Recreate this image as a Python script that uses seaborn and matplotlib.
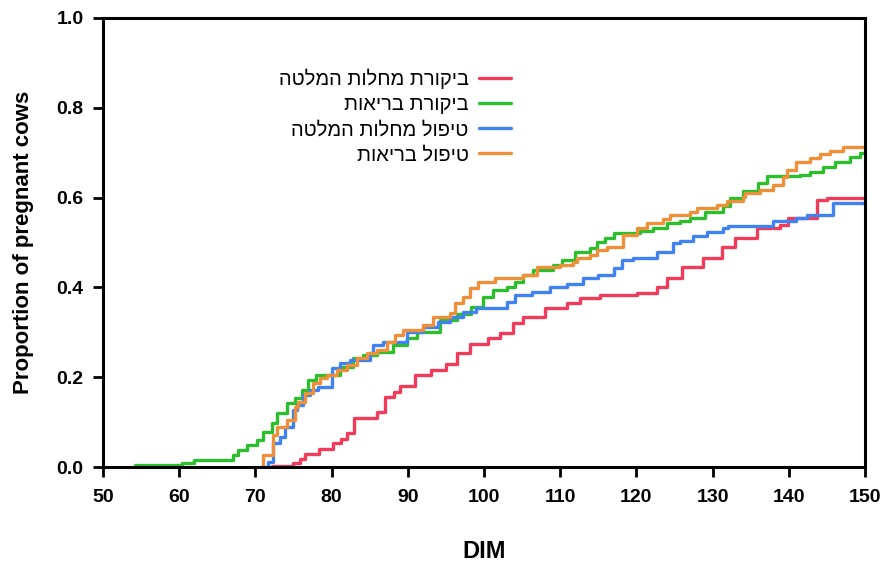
import pandas as pd
import matplotlib
matplotlib.use("Agg")
import matplotlib.pyplot as plt
import seaborn as sns

# Nomes dos grupos (texto hebraico em ordem lógica)
grupos = ['ביקורת מחלות המלטה', 'ביקורת בריאות', 'טיפול מחלות המלטה', 'טיפול בריאות']
cores = ['#F03C5A', '#2DBE2D', '#3F82F0', '#EE8F3A']

# Curvas em degrau (DIM, proporção de vacas prenhes)
red_x = [72.2, 74.9, 75.8, 76.5, 78.3, 80.2, 81.2, 82, 83, 86, 87, 88.2, 89, 91, 93, 95, 96.5, 98.2,
         100.5, 102.1, 103.8, 105.1, 108, 110.9, 112.6, 115.2, 120.1, 122.7, 124, 126, 128.7, 131.2,
         132.9, 135.8, 138.8, 139.9, 143.7, 145, 150]
red_y = [0.003, 0.008, 0.018, 0.03, 0.04, 0.053, 0.062, 0.075, 0.11, 0.123, 0.155, 0.168, 0.18, 0.205,
         0.215, 0.23, 0.255, 0.275, 0.287, 0.298, 0.32, 0.334, 0.354, 0.365, 0.376, 0.383, 0.388, 0.4,
         0.42, 0.445, 0.465, 0.49, 0.51, 0.532, 0.538, 0.555, 0.595, 0.6, 0.6]

green_x = [54.2, 60.4, 62, 67, 67.7, 68.9, 70.2, 71, 72.2, 72.8, 74.1, 75.2, 76.1, 76.9, 78, 81.1, 82.8,
           84.1, 86, 88.1, 89.9, 91.2, 94.2, 96.5, 98.3, 99.9, 101.2, 103, 104.1, 105.1, 106.4, 109,
           110.2, 111.9, 113.9, 114.8, 115.9, 117, 120.5, 122.2, 124, 125.7, 127, 129, 131.4, 132.3,
           134, 136, 137.1, 141.5, 142.8, 144.5, 146, 148, 149.3, 150]
green_y = [0.004, 0.009, 0.015, 0.027, 0.038, 0.05, 0.06, 0.078, 0.097, 0.12, 0.142, 0.153, 0.172, 0.194,
           0.205, 0.223, 0.243, 0.25, 0.256, 0.272, 0.287, 0.301, 0.327, 0.34, 0.357, 0.379, 0.394, 0.4,
           0.412, 0.427, 0.438, 0.45, 0.461, 0.479, 0.488, 0.501, 0.51, 0.521, 0.526, 0.532, 0.543,
           0.548, 0.554, 0.568, 0.581, 0.598, 0.615, 0.632, 0.648, 0.651, 0.657, 0.668, 0.68, 0.69,
           0.7, 0.7]

blue_x = [71.3, 71.6, 72.3, 73.2, 73.9, 74.9, 75.5, 76.2, 77.2, 78.2, 80, 81.1, 82.4, 85, 85.4, 86.7,
          89.9, 92, 94, 95.5, 97.2, 99, 103, 104.1, 106.3, 108.7, 110.9, 113, 115, 117, 118.1, 119.6,
          122.7, 124.8, 125.7, 127.4, 129.3, 131.4, 132, 137.9, 141, 142.4, 145.8, 150]
blue_y = [0.0, 0.012, 0.053, 0.067, 0.09, 0.127, 0.138, 0.16, 0.171, 0.178, 0.22, 0.232, 0.238, 0.254,
          0.272, 0.279, 0.301, 0.312, 0.323, 0.334, 0.345, 0.354, 0.367, 0.383, 0.39, 0.401, 0.407,
          0.42, 0.428, 0.443, 0.461, 0.465, 0.479, 0.499, 0.503, 0.514, 0.523, 0.532, 0.537, 0.548,
          0.554, 0.561, 0.588, 0.588]

orange_x = [70.9, 71, 72.3, 72.8, 74.1, 75.2, 75.6, 76.5, 77.6, 78.5, 79.4, 80.7, 82, 83.3, 84.6, 86,
            87.3, 88.3, 89.4, 92, 93.3, 95.5, 96.2, 97.2, 98.2, 99.2, 101.4, 105.1, 107, 110, 111.7,
            112.2, 113.9, 114.8, 116.1, 118.2, 120.1, 121.4, 123.5, 124.4, 127, 128, 130.6, 131.9, 134,
            134.2, 136.2, 137.9, 139.2, 139.8, 141, 142.8, 144.1, 145.4, 147.1, 150]
orange_y = [0.0, 0.027, 0.071, 0.089, 0.105, 0.134, 0.145, 0.165, 0.187, 0.198, 0.205, 0.216, 0.227,
            0.243, 0.254, 0.261, 0.279, 0.294, 0.305, 0.316, 0.334, 0.343, 0.365, 0.379, 0.399, 0.412,
            0.42, 0.428, 0.445, 0.45, 0.457, 0.465, 0.472, 0.483, 0.49, 0.517, 0.532, 0.543, 0.552,
            0.562, 0.568, 0.577, 0.583, 0.592, 0.601, 0.61, 0.617, 0.628, 0.646, 0.661, 0.679, 0.688,
            0.697, 0.704, 0.713, 0.715]

series_x = [red_x, green_x, blue_x, orange_x]
series_y = [red_y, green_y, blue_y, orange_y]

# Montar DataFrame longo
linhas = []
for g, xs, ys in zip(grupos, series_x, series_y):
    for xv, yv in zip(xs, ys):
        linhas.append({'DIM': xv, 'prop': yv, 'grupo': g})
df = pd.DataFrame(linhas)

sns.set_style('ticks')
plt.rcParams['font.family'] = ['Liberation Sans', 'DejaVu Sans']
plt.rcParams['text.color'] = 'black'
plt.rcParams['axes.labelcolor'] = 'black'

fig = plt.figure(figsize=(8.89, 5.62), dpi=100)
ax = fig.add_axes([103 / 889, 1 - 467 / 562, 762 / 889, 449 / 562])

sns.lineplot(data=df, x='DIM', y='prop', hue='grupo', hue_order=grupos,
             palette=dict(zip(grupos, cores)), estimator=None, drawstyle='steps-post',
             linewidth=2.4, ax=ax)

ax.set_xlim(50, 150)
ax.set_ylim(0, 1.0)
ax.set_xticks(range(50, 151, 10))
ax.set_yticks([0.0, 0.2, 0.4, 0.6, 0.8, 1.0])
ax.set_yticklabels([f'{v:.1f}' for v in [0.0, 0.2, 0.4, 0.6, 0.8, 1.0]])

for s in ax.spines.values():
    s.set_linewidth(2.2)
    s.set_color('black')
ax.tick_params(direction='out', length=7, width=2, labelsize=14, colors='black')
ax.tick_params(axis='x', pad=9)
ax.tick_params(axis='y', pad=7)
for lab in ax.get_xticklabels() + ax.get_yticklabels():
    lab.set_fontweight('bold')

ax.set_xlabel('DIM', fontsize=17, fontweight='bold', labelpad=24, color='black')
ax.set_ylabel('Proportion of pregnant cows', fontsize=16, fontweight='bold', labelpad=16,
              color='black')

# Legenda: texto hebraico invertido para a ordem visual (matplotlib não faz bidi)
handles, labels = ax.get_legend_handles_labels()
leg = ax.legend(handles, [l[::-1] for l in labels], loc='center', bbox_to_anchor=(0.383, 0.78),
                frameon=False, markerfirst=False, fontsize=14.5, handlelength=1.6,
                labelspacing=0.3, handletextpad=0.5)
for t in leg.get_texts():
    t.set_color('black')

plt.savefig('out.png', dpi=100)
plt.close()
